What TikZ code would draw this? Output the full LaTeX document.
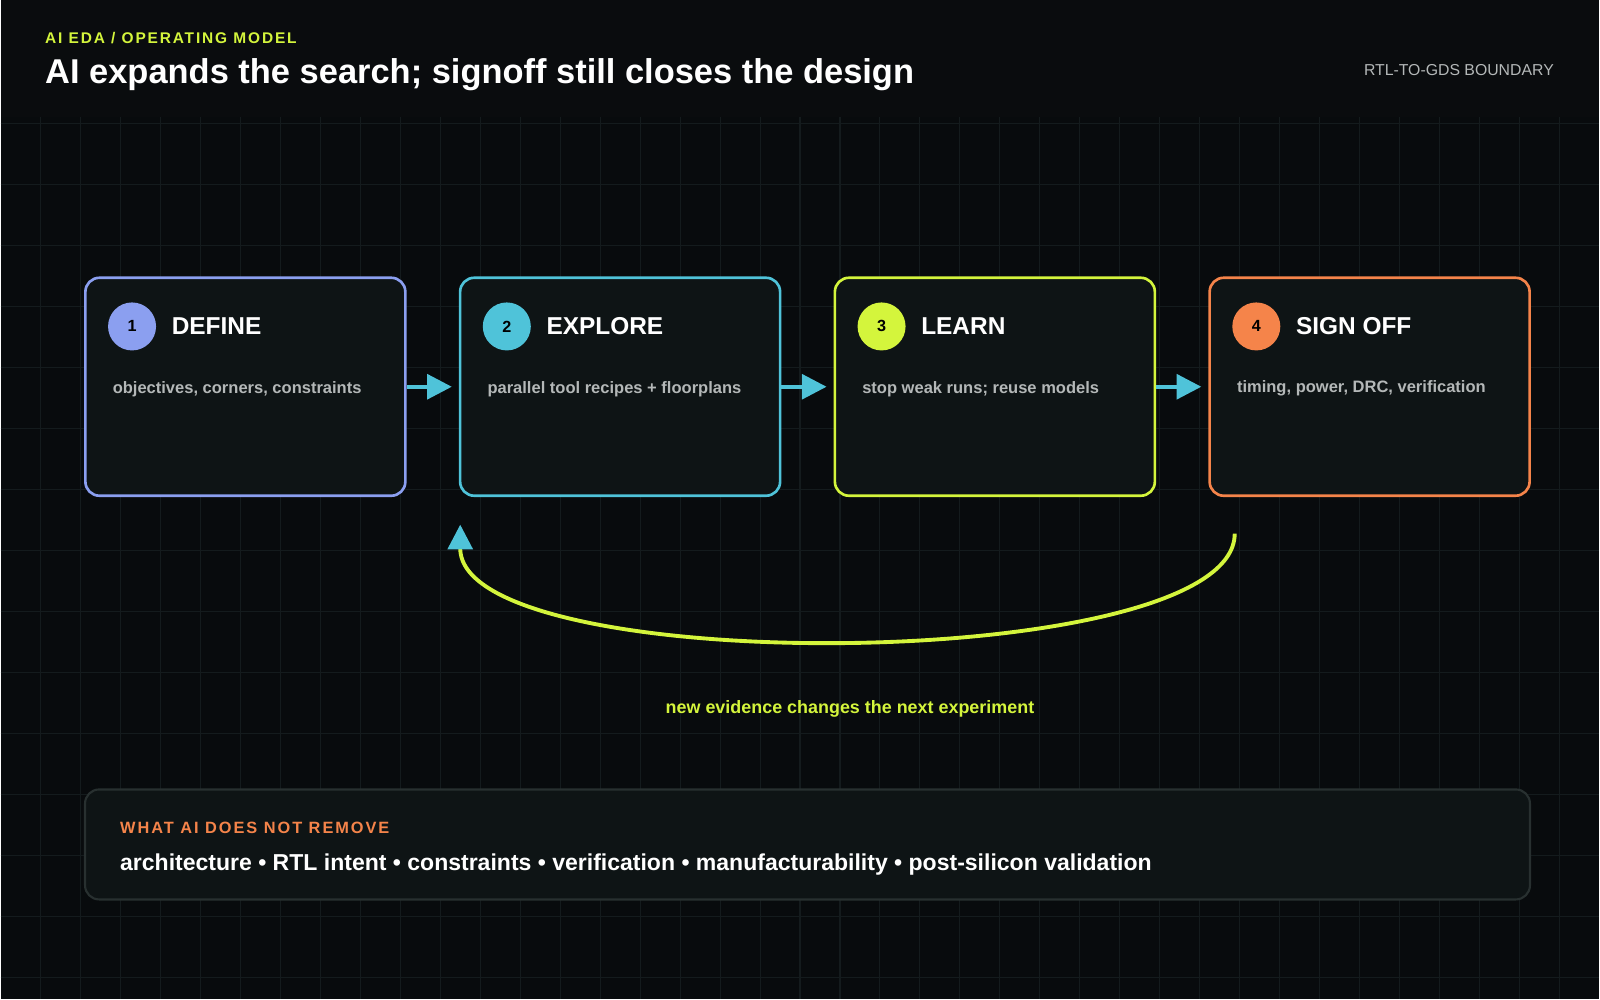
\documentclass[tikz,border=0pt]{standalone}
\usepackage{fontspec}
\setmainfont{Liberation Sans}
\newfontfamily\spaced[LetterSpace=12]{Liberation Sans}
\usetikzlibrary{arrows.meta,positioning}
\definecolor{bgdark}{HTML}{080B0D}
\definecolor{bghead}{HTML}{0A0C0E}
\definecolor{gridln}{HTML}{141B1D}
\definecolor{boxfill}{HTML}{0E1415}
\definecolor{lime}{HTML}{D4F53C}
\definecolor{cyanc}{HTML}{4FC3D9}
\definecolor{peri}{HTML}{8B9FF0}
\definecolor{orng}{HTML}{F5844A}
\definecolor{softgray}{HTML}{B4B8B8}
\definecolor{panelline}{HTML}{283030}
\begin{document}
\begin{tikzpicture}[x=0.01cm, y=-0.01cm]
\tikzset{ >={Triangle[length=7pt,width=7pt]},
  step/.style={draw=#1, line width=0.75pt, fill=boxfill, rounded corners=4pt,
    minimum width=3.2cm, minimum height=2.18cm, inner sep=0pt},
  badge/.style={circle, fill=#1, minimum size=0.48cm, inner sep=0pt,
    font=\fontsize{4.6pt}{5pt}\selectfont\bfseries, text=black},
  steptitle/.style={anchor=west, inner sep=0pt, text=white,
    font=\fontsize{6.95pt}{8pt}\selectfont\bfseries},
  stepdesc/.style={anchor=west, inner sep=0pt, text=softgray,
    font=\fontsize{4.7pt}{5.5pt}\selectfont\bfseries},
  flow/.style={->, cyanc, line width=1.1pt},
}

% background and grid
\fill [bgdark] (0,0) rectangle (1600,1000);
\fill [bghead] (0,0) rectangle (1600,117);
\foreach \gx in {40,80,...,1560} \draw [gridln, line width=0.3pt] (\gx,117) -- (\gx,1000);
\foreach \gy in {124,185,...,990} \draw [gridln, line width=0.3pt] (0,\gy) -- (1600,\gy);

% header
\node [anchor=base west, inner sep=0pt, text=lime, font=\fontsize{4.4pt}{5pt}\spaced\bfseries] (kicker) at (44,44) {AI EDA / OPERATING MODEL};
\node [anchor=base west, inner sep=0pt, text=white, font=\fontsize{9.8pt}{11pt}\selectfont\bfseries] (title) at (44,84) {AI expands the search; signoff still closes the design};
\node [anchor=base east, inner sep=0pt, text=softgray, font=\fontsize{4.5pt}{5pt}\selectfont] (scope) at (1555,76) {RTL-TO-GDS BOUNDARY};

% steps
\node [step=peri]  (define)  at (245,387)  {};
\node [step=cyanc] (explore) at (620,387)  {};
\node [step=lime]  (learn)   at (995,387)  {};
\node [step=orng]  (signoff) at (1370,387) {};

\foreach \s/\c/\n/\t/\d in {define/peri/1/DEFINE/{objectives, corners, constraints},
  explore/cyanc/2/EXPLORE/{parallel tool recipes + floorplans},
  learn/lime/3/LEARN/{stop weak runs; reuse models},
  signoff/orng/4/SIGN OFF/{timing, power, DRC, verification}}
{
  \node [badge=\c] (\s-num) at ([xshift=0.48cm, yshift=-0.5cm]\s.north west) {\n};
  \node [steptitle] (\s-title) at ([xshift=0.39cm]\s-num.center) {\t};
  \node [stepdesc] (\s-desc) at ([xshift=0.28cm, yshift=-0.02cm]\s.west) {\d};
}

\coordinate (explore-in)  at ([xshift=-0.07cm]explore.west);
\coordinate (learn-in)    at ([xshift=-0.07cm]learn.west);
\coordinate (signoff-in)  at ([xshift=-0.07cm]signoff.west);
\draw [flow] (define.east)  -- (explore-in);
\draw [flow] (explore.east) -- (learn-in);
\draw [flow] (learn.east)   -- (signoff-in);

% feedback loop
\coordinate (loop-start) at (1235,534);
\coordinate (loop-end)   at (460,525);
\draw [lime, line width=1.1pt, -{Triangle[length=7pt,width=7pt,color=cyanc]}]
  (loop-start) .. controls (1235,675) and (460,680) .. (loop-end);
\node [text=lime, font=\fontsize{5.1pt}{6pt}\selectfont\bfseries] (loop-label) at (850,709) {new evidence changes the next experiment};

% bottom panel
\node [draw=panelline, line width=0.6pt, fill=boxfill, rounded corners=4pt,
  minimum width=14.45cm, minimum height=1.1cm, inner sep=0pt] (panel) at (807.5,845) {};
\node [anchor=base west, inner sep=0pt, text=orng, font=\fontsize{4.65pt}{5pt}\spaced\bfseries] (panel-head) at (119,834) {WHAT AI DOES NOT REMOVE};
\node [anchor=base west, inner sep=0pt, text=white, font=\fontsize{6.55pt}{7.5pt}\selectfont\bfseries] (panel-text) at (119,871) {architecture • RTL intent • constraints • verification • manufacturability • post-silicon validation};
\end{tikzpicture}
\end{document}
